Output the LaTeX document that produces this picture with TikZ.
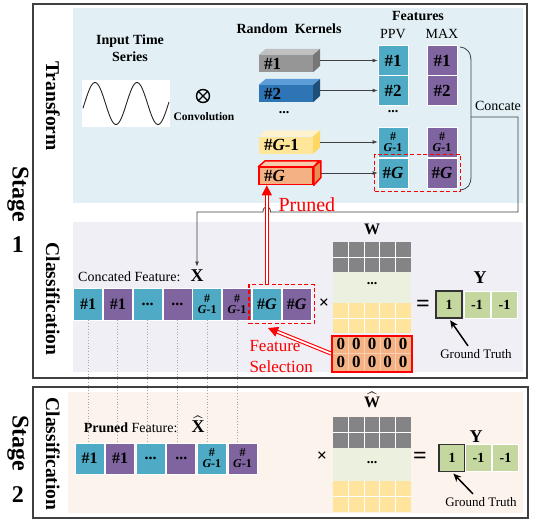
\RequirePackage{fix-cm}
\documentclass[tikz,border=0pt]{standalone}
\usepackage{amsmath}
\usepackage{fontspec}
\setmainfont{Liberation Serif}
\usetikzlibrary{arrows.meta,fit}

\definecolor{tfbg}{RGB}{226,240,245}
\definecolor{clbg}{RGB}{239,239,245}
\definecolor{stbg}{RGB}{252,243,237}
\definecolor{ppvc}{RGB}{78,170,197}
\definecolor{maxc}{RGB}{128,100,160}
\definecolor{wgrey}{RGB}{132,132,134}
\definecolor{wgreen}{RGB}{235,241,222}
\definecolor{wyell}{RGB}{254,228,156}
\definecolor{orng}{RGB}{244,177,131}
\definecolor{ygreen}{RGB}{196,215,158}
\definecolor{kafront}{RGB}{150,150,150}
\definecolor{katop}{RGB}{192,192,192}
\definecolor{kaside}{RGB}{118,118,118}
\definecolor{kbfront}{RGB}{46,117,182}
\definecolor{kbtop}{RGB}{92,157,215}
\definecolor{kbside}{RGB}{31,78,121}
\definecolor{kcfront}{RGB}{255,230,153}
\definecolor{kctop}{RGB}{255,242,206}
\definecolor{kcside}{RGB}{255,215,100}
\definecolor{kdtop}{RGB}{248,203,173}
\definecolor{kdside}{RGB}{232,142,82}

\newcommand\fsz[1]{\fontsize{#1}{#1}\selectfont}

\begin{document}
\begin{tikzpicture}[
    x=1pt, y=-1pt,
    panel/.style={draw=black!75, line width=1.2pt},
    feat/.style={rectangle, inner sep=0pt, draw=white, line width=0.8pt,
        minimum width=29pt, minimum height=32pt, font={\bfseries\fsz{16}}},
    ppv/.style={feat, fill=ppvc},
    mx/.style={feat, fill=maxc},
    big/.style={minimum width=30pt, minimum height=30pt, font={\bfseries\fsz{17}}},
    gm/.style={align=center, font={\bfseries\fontsize{12}{11}\selectfont}},
    kern/.style={rectangle, inner xsep=5pt, inner ysep=0pt, text width=44pt,
        minimum height=17pt, align=left, font={\bfseries\fsz{17}}},
    kline/.style={draw=black!75, line width=0.8pt, -{Latex[length=5pt,width=4pt]}},
    redarr/.style={draw=red, double=white, double distance=1.8pt, line width=1.1pt,
        -{Triangle[length=10pt,width=10pt]}},
    seldash/.style={draw=red, line width=1.6pt, dash pattern=on 4pt off 2.5pt, inner sep=3pt},
    wline/.style={draw=white, line width=0.7pt},
    ycell/.style={rectangle, fill=ygreen, draw=white, line width=0.8pt, inner sep=0pt,
        minimum width=26pt, minimum height=27pt, font={\bfseries\fsz{14}}},
    truth/.style={ycell, draw=black!80, line width=1.3pt},
    gtarr/.style={draw=black, line width=1.5pt, shorten >=2pt, -{Stealth[length=8pt,width=7pt]}},
    side/.style={font={\bfseries\fsz{19.5}}, rotate=-90},
    stg/.style={font={\bfseries\fsz{24}}},
    hd/.style={font={\bfseries\fontsize{14}{17}\selectfont}},
    txt/.style={font=\fsz{14}},
    ops/.style={font={\bfseries\fsz{18}}}
]
    \useasboundingbox (0,0) rectangle (536,522);
    \fill[white] (0,0) rectangle (536,522);
    \draw[panel] (33,4) rectangle (527,378);
    \draw[panel] (33,387) rectangle (528,518);
    \fill[tfbg] (73,8) rectangle (523,203);
    \fill[clbg] (73,222) rectangle (523,372);
    \fill[stbg] (68,392) rectangle (523,513);

    \node[stg, rotate=-90] (stA) at (18,194) {Stage};
    \node[stg] (stAn) at (18,245) {1};
    \node[stg, rotate=-90] (stB) at (18,443) {Stage};
    \node[stg] (stBn) at (18,495) {2};
    \node[side] (tflab) at (53,106) {Transform};
    \node[side] (clA) at (53,299) {Classification};
    \node[side] (clB) at (53,454) {Classification};

    \node[hd, align=center] (inp) at (130,48) {Input Time\\Series};
    \node[fill=white, minimum width=88pt, minimum height=47pt, inner sep=0pt] (sig) at (126,103.5) {};
    \draw[black!85, line width=0.9pt, domain=83:169, samples=90, smooth]
        plot (\x,{103.5-21*sin(8.5714*(\x-84.5))});
    \node[circle, draw, line width=1.4pt, minimum size=13pt, inner sep=0pt] (conv) at (203,96) {};
    \draw[line width=1.4pt] (conv.north west) -- (conv.south east) (conv.north east) -- (conv.south west);
    \node[font={\bfseries\fsz{11.5}}] (convlab) at (204,117) {Convolution};

    \node[hd] (rk) at (289,29) {Random\ \ Kernels};
    \node[kern, fill=kafront] (k1) at (286,63.5) {\#1};
    \node[kern, fill=kbfront] (k2) at (286,93.5) {\#2};
    \node[kern, fill=kcfront] (k3) at (286,145) {\#\textit{G}-1};
    \node[kern, fill=orng, draw=red, line width=1.5pt] (kG) at (286,176) {\#\textit{G}};
    \foreach \k/\tc/\sc in {k1/katop/kaside,k2/kbtop/kbside,k3/kctop/kcside}{
        \fill[\tc] (\k.north west) -- ++(7,-6) -- ++(54,0) -- (\k.north east) -- cycle;
        \fill[\sc] (\k.north east) -- ++(7,-6) -- ++(0,17) -- (\k.south east) -- cycle;
    }
    \filldraw[fill=kdtop, draw=red, line width=1.5pt, line join=round]
        (kG.north west) -- ++(7,-6) -- ++(54,0) -- (kG.north east) -- cycle;
    \filldraw[fill=kdside, draw=red, line width=1.5pt, line join=round]
        (kG.north east) -- ++(7,-6) -- ++(0,17) -- (kG.south east) -- cycle;
    \node[hd] (kdots) at (284,113) {...};

    \node[hd] (feats) at (418,16) {Features};
    \node[txt] (ppvlab) at (393,34) {PPV};
    \node[txt] (maxlab) at (442,34) {MAX};
    \node[ppv, big] (f1) at (393,60.5) {\#1};
    \node[mx, big] (m1) at (442,60.5) {\#1};
    \node[ppv, big] (f2) at (393,90.5) {\#2};
    \node[mx, big] (m2) at (442,90.5) {\#2};
    \node[hd] (fdots) at (393,112) {...};
    \node[ppv, big, gm] (f3) at (393,142) {\#\\\textit{G}-1};
    \node[mx, big, gm] (m3) at (442,142) {\#\\\textit{G}-1};
    \node[ppv, big] (f4) at (393,173) {\#\textit{G}};
    \node[mx, big] (m4) at (442,173) {\#\textit{G}};
    \node[seldash, fit=(f4)(m4)] (fsel) {};
    \foreach \a/\b in {k1/f1,k2/f2,k3/f3,kG/f4}
        \draw[kline] ([shift={(7,-3)}]\a.east) -- (\b.west);

    \draw[black!75, line width=0.8pt] (460,47) .. controls (468,48) and (471,53) .. (471,62)
        -- (471,176) .. controls (471,185) and (468,189) .. (460,190);
    \coordinate (cat) at (471,117);
    \node[txt] (catlab) at (498,106) {Concate};

    \node[txt, anchor=east] (cflab) at (184,277) {Concated Feature:};
    \node[ops] (xlab) at (197,276) {X};
    \node[ppv] (c1) at (88,304) {\#1};
    \node[mx] (c2) at (117.8,304) {\#1};
    \node[ppv] (c3) at (147.6,304) {...};
    \node[mx] (c4) at (177.4,304) {...};
    \node[ppv, gm] (c5) at (207.2,304) {\#\\\textit{G}-1};
    \node[mx, gm] (c6) at (237,304) {\#\\\textit{G}-1};
    \node[ppv] (g1) at (266.8,304) {\#\textit{G}};
    \node[mx] (g2) at (296.6,304) {\#\textit{G}};
    \node[seldash, fit=(g1)(g2)] (gsel) {};

    \draw[kline] (cat) -- (518,117) -- (518,212) -- (270.5,212)
        .. controls (270.5,205) and (263,205) .. (263,212) -- (197,212) -- (xlab.north);
    \draw[redarr] (g1.center |- gsel.north) -- (g1.center |- kG.south);
    \node[red, font=\fsz{20}, anchor=west] (prlab) at (275,205) {Pruned};

    \node[font={\bfseries\fsz{16}}] (wlab) at (372,229) {W};
    \fill[wgrey] (333,242) rectangle (411,272);
    \fill[wgreen] (333,272) rectangle (411,303);
    \fill[wyell] (333,303) rectangle (411,333);
    \node[hd] (wdots) at (372,284) {...};
    \node[rectangle, fill=orng, draw=red, line width=2pt, minimum width=80pt,
        minimum height=36pt, inner sep=0pt] (zeros) at (372,353.5) {};
    \foreach \i in {1,...,4}
        \draw[orng!60!white, line width=0.6pt] ({333+15.6*\i},337) -- ({333+15.6*\i},370);
    \draw[orng!60!white, line width=0.6pt] (333,353.5) -- (411,353.5);
    \foreach \i in {0,...,4}
        \foreach \r in {344,362}
            \node[font={\bfseries\fsz{17}}, inner sep=0pt] (z-\i-\r) at ({340.8+15.6*\i},\r) {0};
    \node[ops] (mulA) at (324,304) {×};
    \node[font={\bfseries\fsz{24}}] (eqA) at (423,306) {=};
    \node[ops] (ylabA) at (480,278) {Y};
    \node[truth] (yA1) at (449,304.5) {1};
    \node[ycell] (yA2) at (477,304.5) {-1};
    \node[ycell] (yA3) at (504.5,304.5) {-1};
    \node[font=\fsz{13}] (gtA) at (476,354) {Ground Truth};
    \draw[gtarr] ([xshift=-8pt]gtA.north) -- (yA1.south);

    \node[red, anchor=west, align=left, font=\fontsize{17}{21}\selectfont] (fslab) at (246,357) {Feature\\Selection};
    \coordinate (selpt) at (268,328);
    \draw[redarr] (zeros.west) -- (selpt);

    \node[ppv, minimum height=31pt] (p1) at (89.5,458.5) {\#1};
    \node[mx, minimum height=31pt] (p2) at (120.1,458.5) {\#1};
    \node[ppv, minimum height=31pt] (p3) at (150.7,458.5) {...};
    \node[mx, minimum height=31pt] (p4) at (181.3,458.5) {...};
    \node[ppv, minimum height=31pt, gm] (p5) at (211.9,458.5) {\#\\\textit{G}-1};
    \node[mx, minimum height=31pt, gm] (p6) at (242.5,458.5) {\#\\\textit{G}-1};
    \foreach \a/\b in {c1/p1,c2/p2,c3/p3,c4/p4,c5/p5,c6/p6}
        \draw[black!35, dotted, line width=0.8pt] (\a.south) -- (\a.south |- \b.north);
    \node[txt, anchor=east] (pflab) at (181,428) {\textbf{Pruned} Feature:};
    \node[font=\fsz{18}] (xhat) at (198,424) {$\widehat{\textbf{X}}$};

    \node[font=\fsz{16}] (what) at (372,400) {$\widehat{\textbf{W}}$};
    \fill[wgrey] (333,417) rectangle (411,448);
    \fill[wgreen] (333,448) rectangle (411,481);
    \fill[wyell] (333,481) rectangle (411,512);
    \node[hd] (whdots) at (372,463) {...};
    \foreach \ya/\yb in {242/272,303/333,417/448,481/512}{
        \foreach \i in {1,...,4}
            \draw[wline] ({333+15.6*\i},\ya) -- ({333+15.6*\i},\yb);
    }
    \foreach \yy in {257,318,432.5,496.5}
        \draw[wline] (333,\yy) -- (411,\yy);
    \node[ops] (mulB) at (322,457) {×};
    \node[font={\bfseries\fsz{24}}] (eqB) at (420,458) {=};
    \node[ops] (ylabB) at (476,437) {Y};
    \node[truth] (yB1) at (452,458) {1};
    \node[ycell] (yB2) at (478.5,458) {-1};
    \node[ycell] (yB3) at (505.5,458) {-1};
    \node[font=\fsz{13}] (gtB) at (481,502) {Ground Truth};
    \draw[gtarr] ([xshift=-8pt]gtB.north) -- (yB1.south);
\end{tikzpicture}
\end{document}
